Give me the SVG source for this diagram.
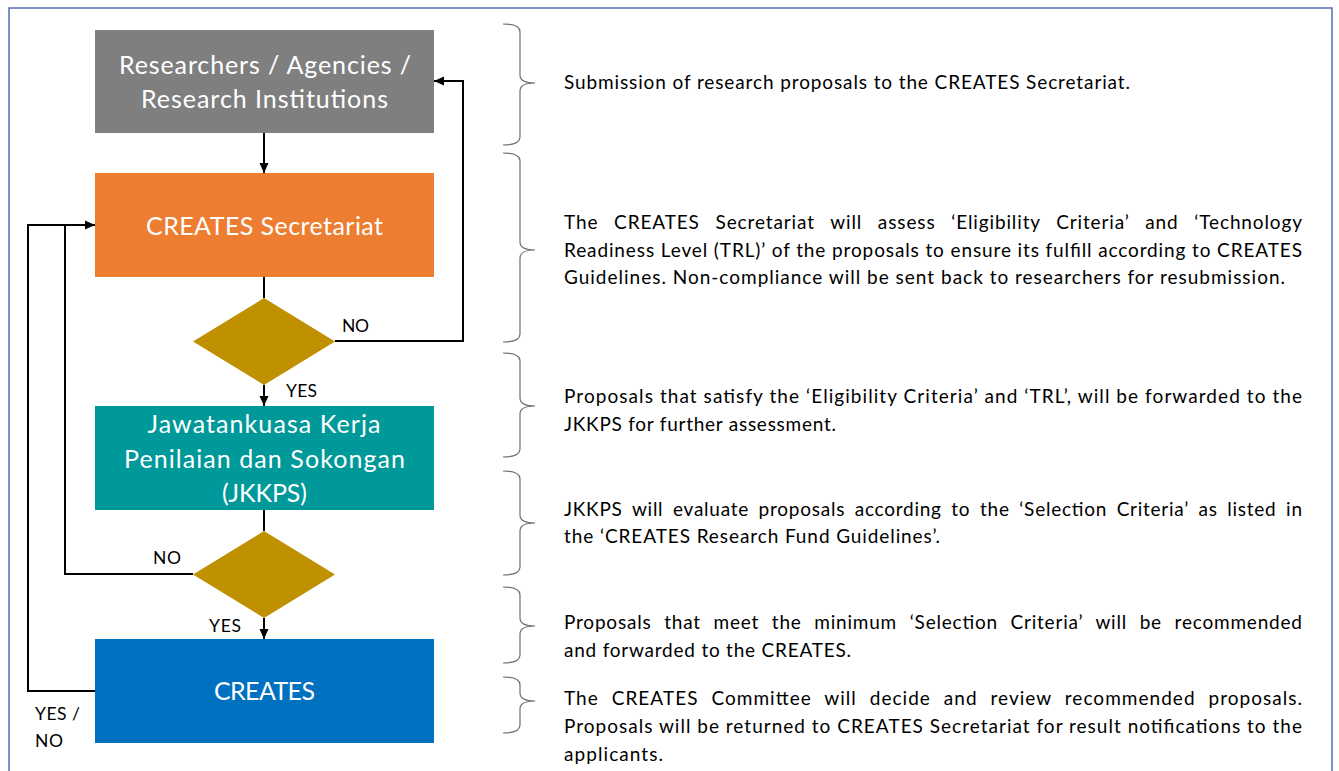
<svg xmlns="http://www.w3.org/2000/svg" width="1339" height="771" viewBox="0 0 1339 771">
<defs>
<style>
.bt{font-family:Lato,"Liberation Sans",sans-serif;font-size:25px;fill:#fff;text-anchor:middle}
.lb{font-family:Lato,"Liberation Sans",sans-serif;font-size:17.5px;fill:#000}
.tx{font-family:Lato,"Liberation Sans",sans-serif;font-size:19px;fill:#000}
.cn{fill:none;stroke:#000;stroke-width:2}
.br{fill:none;stroke:#6e6e6e;stroke-width:1.2}
</style>
<marker id="ah" markerUnits="userSpaceOnUse" markerWidth="10" markerHeight="10" refX="10" refY="5" orient="auto">
<path d="M0,0.5 L10,5 L0,9.5 Z" fill="#000"/>
</marker>
</defs>
<rect width="1339" height="771" fill="#fff"/>
<path d="M9,780 V8 H1332 V780" fill="none" stroke="#4f6fb5" stroke-width="1.5"/>

<g id="connectors">
<path class="cn" d="M264,133 V173" marker-end="url(#ah)"/>
<path class="cn" d="M264,277 V298"/>
<path class="cn" d="M264,385 V406" marker-end="url(#ah)"/>
<path class="cn" d="M335,341 H463 V81 H434" marker-end="url(#ah)"/>
<path class="cn" d="M264,510 V531"/>
<path class="cn" d="M193,574 H65 V225 H95" marker-end="url(#ah)"/>
<path class="cn" d="M264,618 V639" marker-end="url(#ah)"/>
<path class="cn" d="M95,691 H28 V225 H66"/>
<text class="lb" x="342" y="332" textLength="27">NO</text>
<text class="lb" x="286" y="397" textLength="31">YES</text>
<text class="lb" x="153" y="564" textLength="28">NO</text>
<text class="lb" x="209" y="632" textLength="32">YES</text>
<text class="lb" x="35" y="720" textLength="45">YES /</text>
<text class="lb" x="35" y="747" textLength="28">NO</text>
</g>

<g id="researchers">
<rect x="95" y="30" width="339" height="103" fill="#7f7f7f"/>
<text class="bt" x="265" y="74" textLength="292">Researchers / Agencies /</text>
<text class="bt" x="264.5" y="108" textLength="247">Research Institutions</text>
</g>
<g id="secretariat">
<rect x="95" y="173" width="339" height="104" fill="#ed7d31"/>
<text class="bt" x="264.5" y="235" textLength="237">CREATES Secretariat</text>
</g>
<g id="decision1">
<polygon points="264,298 335,341.5 264,385 193,341.5" fill="#bf9000"/>
</g>
<g id="jkkps">
<rect x="95" y="406" width="339" height="104" fill="#00999a"/>
<text class="bt" x="264" y="433" textLength="233">Jawatankuasa Kerja</text>
<text class="bt" x="264.5" y="468" textLength="281">Penilaian dan Sokongan</text>
<text class="bt" x="264.5" y="502" textLength="85">(JKKPS)</text>
</g>
<g id="decision2">
<polygon points="264,531 335,574.5 264,618 193,574.5" fill="#bf9000"/>
</g>
<g id="creates">
<rect x="95" y="639" width="339" height="104" fill="#0070c0"/>
<text class="bt" x="264.5" y="700" textLength="101">CREATES</text>
</g>

<g id="braces">
<path class="br" d="M503,24 Q520,24 520,32 V75 Q520,83 535,83 Q520,83 520,91 V137 Q520,145 503,145"/>
<path class="br" d="M503,153 Q520,153 520,161 V242 Q520,250 535,250 Q520,250 520,258 V334 Q520,342 503,342"/>
<path class="br" d="M503,353 Q520,353 520,361 V398 Q520,406 535,406 Q520,406 520,414 V449 Q520,457 503,457"/>
<path class="br" d="M503,471 Q520,471 520,479 V515 Q520,523 535,523 Q520,523 520,531 V567 Q520,575 503,575"/>
<path class="br" d="M503,587 Q520,587 520,595 V618 Q520,626 535,626 Q520,626 520,634 V655 Q520,663 503,663"/>
<path class="br" d="M503,677 Q520,677 520,685 V693 Q520,701 535,701 Q520,701 520,709 V725 Q520,733 503,733"/>
</g>

<g id="descriptions">
<text class="tx" x="564" y="89" textLength="566">Submission of research proposals to the CREATES Secretariat.</text>
<text class="tx" x="564" y="229" textLength="738" word-spacing="10">The CREATES Secretariat will assess ‘Eligibility Criteria’ and ‘Technology</text>
<text class="tx" x="564" y="257" textLength="738">Readiness Level (TRL)’ of the proposals to ensure its fulfill according to CREATES</text>
<text class="tx" x="564" y="284" textLength="721">Guidelines. Non-compliance will be sent back to researchers for resubmission.</text>
<text class="tx" x="564" y="403" textLength="738">Proposals that satisfy the ‘Eligibility Criteria’ and ‘TRL’, will be forwarded to the</text>
<text class="tx" x="564" y="431" textLength="272">JKKPS for further assessment.</text>
<text class="tx" x="564" y="516" textLength="738" word-spacing="4">JKKPS will evaluate proposals according to the ‘Selection Criteria’ as listed in</text>
<text class="tx" x="564" y="543" textLength="376">the ‘CREATES Research Fund Guidelines’.</text>
<text class="tx" x="564" y="629" textLength="738" word-spacing="7">Proposals that meet the minimum ‘Selection Criteria’ will be recommended</text>
<text class="tx" x="564" y="657" textLength="287">and forwarded to the CREATES.</text>
<text class="tx" x="564" y="705" textLength="738" word-spacing="7">The CREATES Committee will decide and review recommended proposals.</text>
<text class="tx" x="564" y="733" textLength="738">Proposals will be returned to CREATES Secretariat for result notifications to the</text>
<text class="tx" x="564" y="761" textLength="99">applicants.</text>
</g>
</svg>
